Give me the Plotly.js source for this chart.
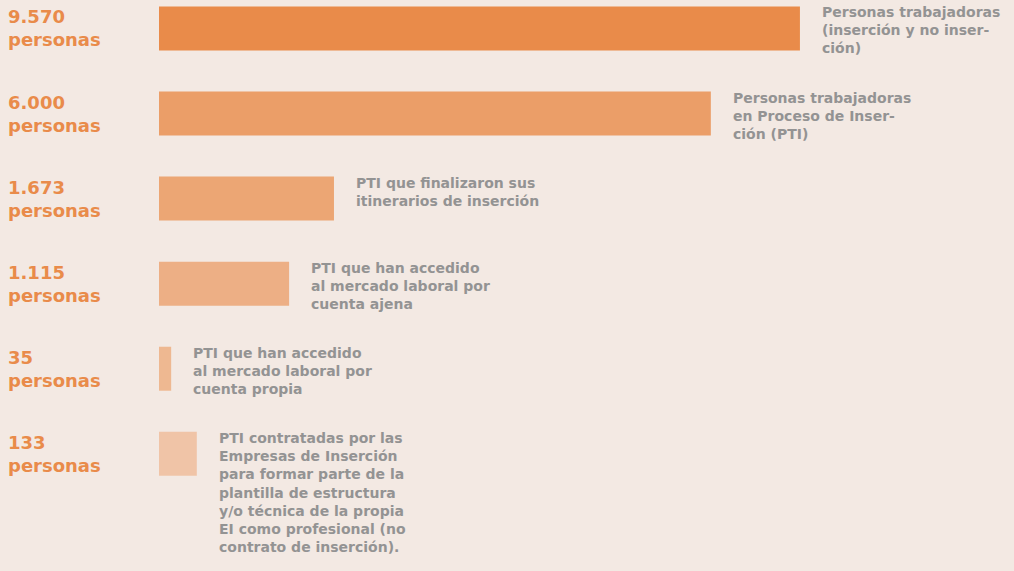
<!DOCTYPE html>
<html>
<head>
<meta charset="utf-8">
<script src="https://cdn.plot.ly/plotly-3.0.1.min.js"></script>
<style>
  html, body { margin: 0; padding: 0; background: #f3e9e3; }
  #chart { width: 1014px; height: 571px; }
</style>
</head>
<body>
<div id="chart"></div>
<script>
// ---- Data ----
const categories = [
  "Personas trabajadoras (inserción y no inserción)",
  "Personas trabajadoras en Proceso de Inserción (PTI)",
  "PTI que finalizaron sus itinerarios de inserción",
  "PTI que han accedido al mercado laboral por cuenta ajena",
  "PTI que han accedido al mercado laboral por cuenta propia",
  "PTI contratadas por las Empresas de Inserción (no contrato de inserción)"
];
const personas = [9570, 6000, 1673, 1115, 35, 133];
const countLabels = ["9.570", "6.000", "1.673", "1.115", "35", "133"];
// bar lengths as drawn in the infographic (relative, longest bar = 100)
const barLength = [100, 86.1, 27.3, 20.3, 1.9, 5.9];
const descriptions = [
  "Personas trabajadoras<br>(inserción y no inser-<br>ción)",
  "Personas trabajadoras<br>en Proceso de Inser-<br>ción (PTI)",
  "PTI que finalizaron sus<br>itinerarios de inserción",
  "PTI que han accedido<br>al mercado laboral por<br>cuenta ajena",
  "PTI que han accedido<br>al mercado laboral por<br>cuenta propia",
  "PTI contratadas por las<br>Empresas de Inserción<br>para formar parte de la<br>plantilla de estructura<br>y/o técnica de la propia<br>EI como profesional (no<br>contrato de inserción)."
];
const barColors = ["#e98b4a", "#eb9e68", "#eca674", "#edaf85", "#eeb891", "#f0c4a7"];

// ---- Styles ----
const orange = "#e98b4a";
const grey = "#939393";
const fontFam = "'DejaVu Sans', 'Open Sans', sans-serif";

const trace = {
  type: "bar",
  orientation: "h",
  x: barLength,
  y: categories,
  customdata: personas,
  width: 0.517,
  marker: { color: barColors, line: { width: 0 } },
  hoverinfo: "skip"
};

const annotations = [];
categories.forEach((c, i) => {
  annotations.push({
    xref: "paper", yref: "y", x: 0, y: c,
    xanchor: "left", yanchor: "middle", align: "left",
    xshift: -152, yshift: 0,
    text: countLabels[i] + "<br>personas", showarrow: false, borderpad: 0,
    font: { family: fontFam, size: 18, color: orange, weight: 700 }
  });
  annotations.push({
    xref: "x", yref: "y", x: barLength[i], y: c,
    xanchor: "left", yanchor: "top", align: "left",
    xshift: 21, yshift: 25,
    text: descriptions[i], showarrow: false, borderpad: 0,
    font: { family: fontFam, size: 14, color: grey, weight: 700 }
  });
});

const layout = {
  width: 1014, height: 571,
  margin: { l: 159, r: 0, t: 0, b: 0, pad: 0 },
  paper_bgcolor: "#f3e9e3",
  plot_bgcolor: "#f3e9e3",
  showlegend: false,
  hovermode: false,
  xaxis: { range: [0, 133.4], visible: false, fixedrange: true },
  yaxis: { type: "category", range: [6.378, -0.335], visible: false, fixedrange: true },
  annotations: annotations
};

Plotly.newPlot("chart", [trace], layout, { displayModeBar: false, staticPlot: true });
</script>
</body>
</html>
